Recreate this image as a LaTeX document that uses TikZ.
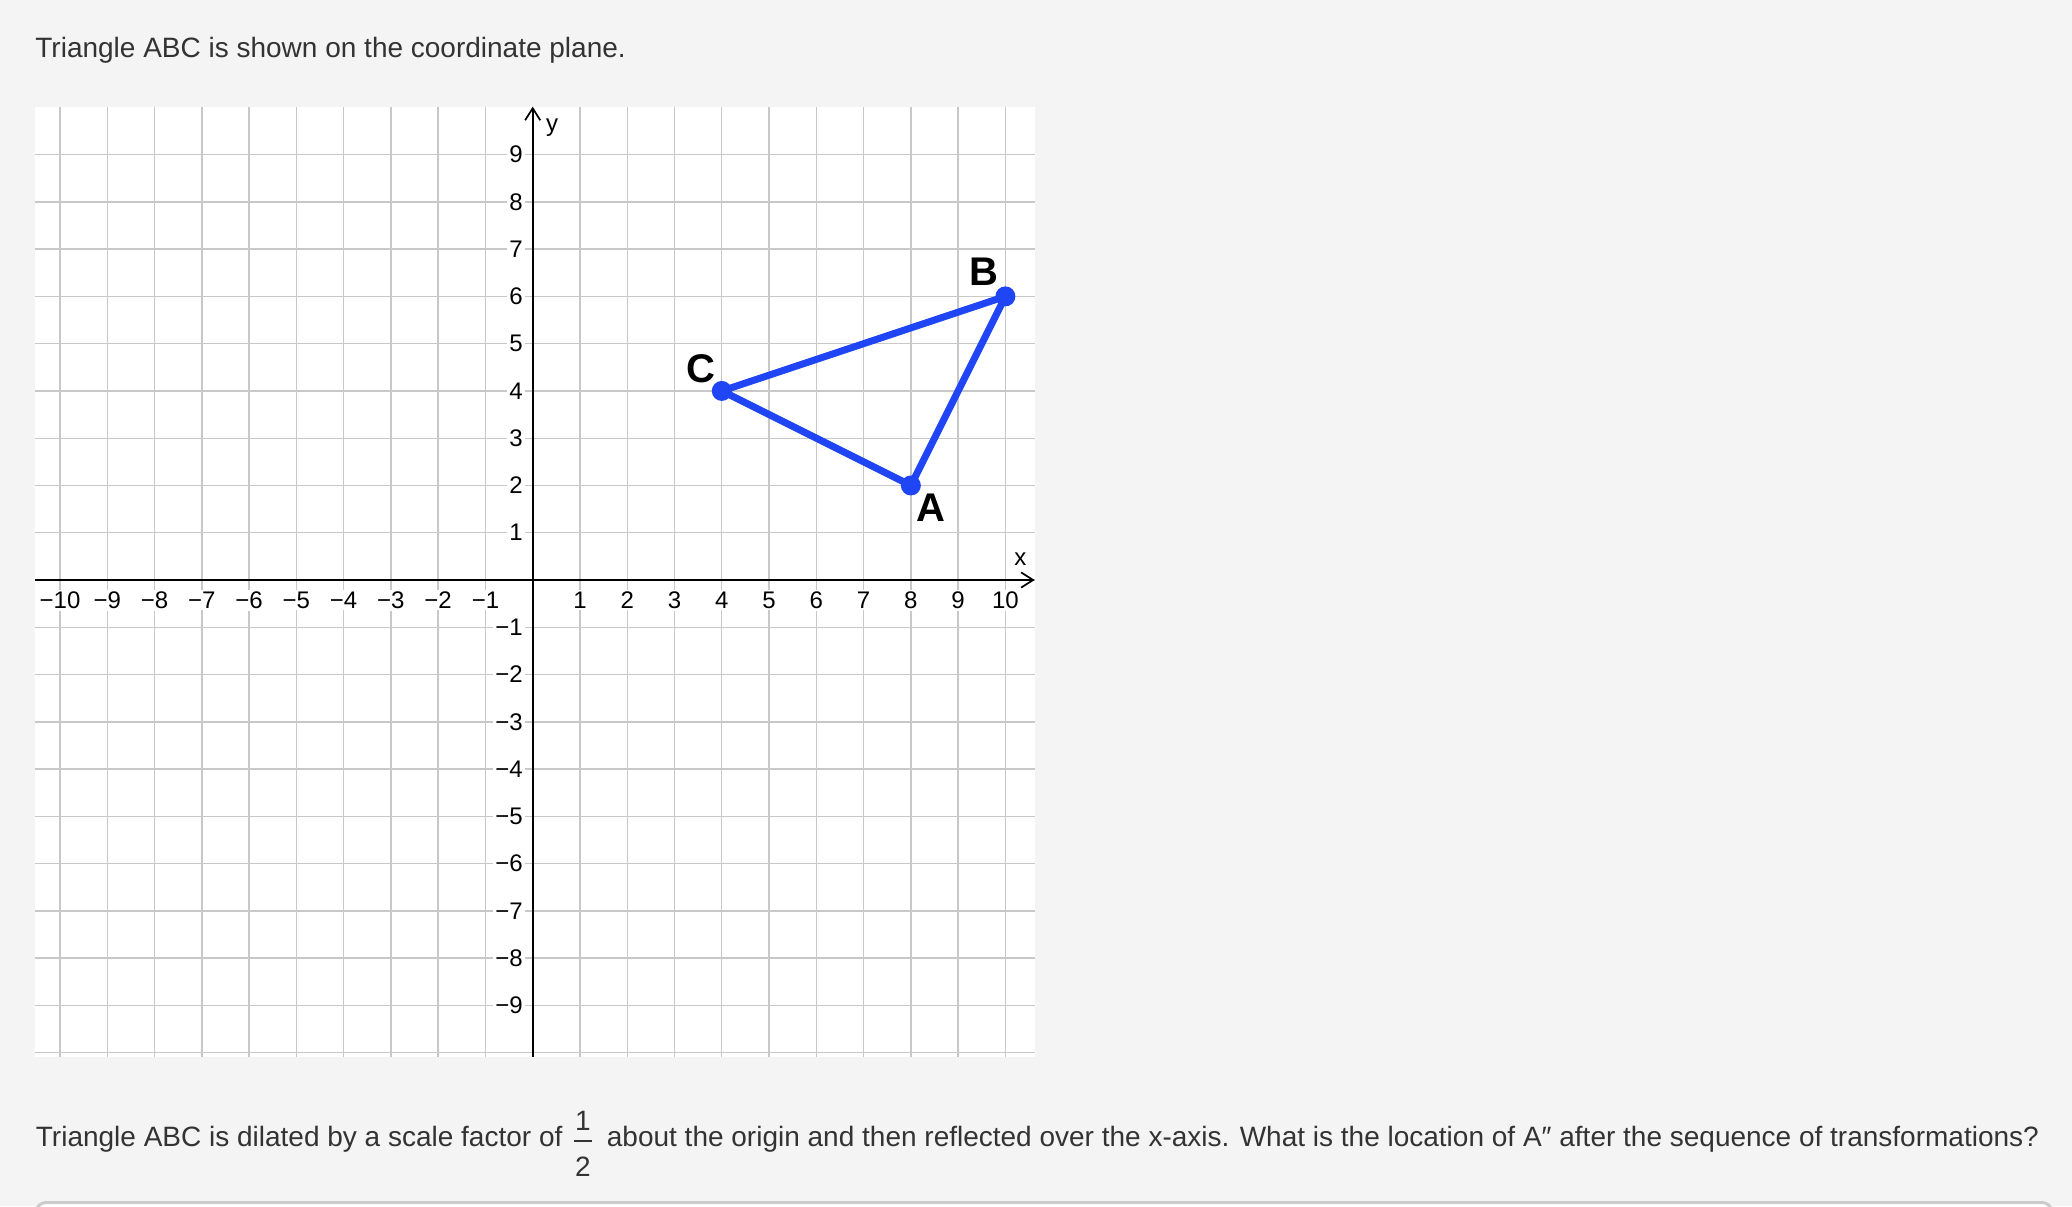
\documentclass[tikz,border=0pt]{standalone}
\usepackage{fontspec}
\setmainfont{Liberation Sans}
\usetikzlibrary{arrows.meta}
\definecolor{bg}{HTML}{F4F4F4}
\definecolor{gridgray}{HTML}{C8C8C8}
\definecolor{tblue}{HTML}{1F45F5}
\definecolor{txtgray}{HTML}{333333}
\definecolor{boxgray}{HTML}{CCCCCC}
\tikzset{
  txt/.style={text=txtgray, font=\fontsize{14}{16}\selectfont, inner sep=0pt},
  tick/.style={font=\fontsize{12}{14}\selectfont, fill=white, inner sep=1pt, text=black},
  axlab/.style={font=\fontsize{12}{14}\selectfont, inner sep=0pt, text=black},
  ptlabel/.style={font=\bfseries\fontsize{20}{22}\selectfont, text=black, inner sep=0pt},
  dot/.style={circle, fill=tblue, inner sep=0pt, minimum size=10pt},
  tri/.style={draw=tblue, line width=3.5pt, line join=round, line cap=round},
  gridline/.style={draw=gridgray, line width=0.7pt},
  axis/.style={draw=black, line width=0.85pt, -{Straight Barb[length=6pt,width=7.6pt]}},
}
\begin{document}
\begin{tikzpicture}[x=0.5pt,y=-0.5pt]
\useasboundingbox (0,0) rectangle (2072,1206);
\fill[bg] (0,0) rectangle (2072,1206);
% question text
\node[txt, anchor=base west] (q1) at (35,57.3) {Triangle ABC is shown on the coordinate plane.};
% graph area
\fill[white] (35,106.7) rectangle (1034.7,1056.7);
\begin{scope}[shift={(532.7,580)}, x=23.635pt, y=23.635pt]
  \foreach \i in {-10,...,10} \draw[gridline] (\i,-10.084) -- (\i,10.013);
  \foreach \j in {-10,...,9} \draw[gridline] (-10.529,\j) -- (10.62,\j);
  \draw[axis] (-10.529,0) -- (10.62,0);
  \draw[axis] (0,-10.084) -- (0,10.013);
  \foreach \i in {1,...,10} {
    \node[tick] (xp\i) at (\i,-0.423) {\i};
    \node[tick] (xn\i) at (-\i,-0.423) {−\i};
  }
  \foreach \j in {1,...,9} {
    \node[tick, anchor=east] (yp\j) at (-0.16,\j) {\j};
    \node[tick, anchor=east] (yn\j) at (-0.16,-\j) {−\j};
  }
  \node[axlab] (xlab) at (10.315,0.434) {x};
  \node[axlab] (ylab) at (0.412,9.56) {y};
  % triangle
  \coordinate (A) at (8,2);
  \coordinate (B) at (10,6);
  \coordinate (C) at (4,4);
  \draw[tri] (A) -- (B) -- (C) -- cycle;
  \node[dot] (dA) at (A) {};
  \node[dot] (dB) at (B) {};
  \node[dot] (dC) at (C) {};
  \node[ptlabel] (lA) at (8.426,1.523) {A};
  \node[ptlabel] (lB) at (9.552,6.516) {B};
  \node[ptlabel] (lC) at (3.55,4.464) {C};
\end{scope}
% second question
\node[txt, anchor=base west] (q2a) at (35.5,1146) {Triangle ABC is dilated by a scale factor of};
\node[txt, anchor=base] (num) at (583,1130) {1};
\node[txt, anchor=base] (den) at (583,1176) {2};
\draw[txtgray, line width=1pt] (574,1141) -- (592,1141);
\node[txt, anchor=base west] (q2b) at (606.5,1146) {about the origin and then reflected over the x-axis. What is the location of A″ after the sequence of transformations?};
% answer box top edge
\begin{scope}
  \clip (0,0) rectangle (2072,1206);
  \draw[draw=boxgray, line width=1.5pt, fill=white, rounded corners=5pt] (36,1202.5) rectangle (2052,1300);
\end{scope}
\end{tikzpicture}
\end{document}
